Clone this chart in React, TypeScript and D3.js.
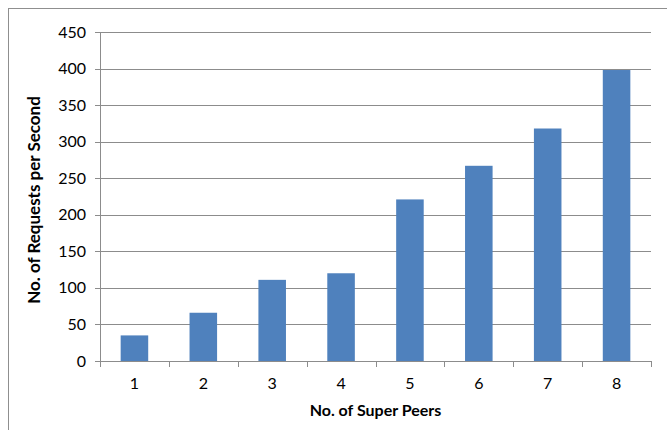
import React from "react";
import * as d3 from "d3";

const categories = ["1", "2", "3", "4", "5", "6", "7", "8"];
const requests = [35, 66, 111, 120, 221, 267, 318, 398];
const yTicks = [0, 50, 100, 150, 200, 250, 300, 350, 400, 450];
const xTitle = "No. of Super Peers";
const yTitle = "No. of Requests per Second";

const W = 667;
const H = 430;
const plot = { left: 100, right: 651, top: 32, bottom: 361 };
const font = "Lato, Carlito, Calibri, sans-serif";

export default function App() {
  const x = d3
    .scaleBand<string>()
    .domain(categories)
    .range([plot.left, plot.right])
    .paddingInner(0.6)
    .paddingOuter(0.3);
  const xCat = d3.scaleBand<string>().domain(categories).range([plot.left, plot.right]);
  const y = d3.scaleLinear().domain([0, 450]).range([plot.bottom, plot.top]);
  const grid = "#8c8c8c";
  const boundaries = [...categories.map((c) => xCat(c)!), plot.right];

  return (
    <svg
      width={W}
      height={H}
      style={{ position: "absolute", left: 0, top: 0, background: "#fff" }}
    >
      <rect x={8.5} y={8.5} width={W + 20} height={H + 20} fill="#fff" stroke="#8f8f8f" strokeWidth={1} />
      {yTicks.map((t) => (
        <g key={t}>
          {t > 0 && (
            <line x1={plot.left} x2={plot.right} y1={Math.round(y(t)) + 0.5} y2={Math.round(y(t)) + 0.5} stroke={grid} strokeWidth={1} />
          )}
          <line x1={plot.left - 5} x2={plot.left} y1={Math.round(y(t)) + 0.5} y2={Math.round(y(t)) + 0.5} stroke={grid} />
          <text
            x={86}
            y={y(t)}
            dy="0.35em"
            textAnchor="end"
            fontFamily={font}
            fontSize={16}
            fill="#000"
          >
            {t}
          </text>
        </g>
      ))}
      {categories.map((c, i) => (
        <rect
          key={c}
          x={x(c)!}
          y={y(requests[i])}
          width={x.bandwidth()}
          height={y(0) - y(requests[i])}
          fill="#4f81bd"
        />
      ))}
      <line x1={plot.left + 0.5} x2={plot.left + 0.5} y1={plot.top} y2={plot.bottom} stroke={grid} />
      <line x1={plot.left} x2={plot.right} y1={plot.bottom + 0.5} y2={plot.bottom + 0.5} stroke={grid} />
      {boundaries.map((b, i) => (
        <line key={i} x1={Math.round(b) + 0.5} x2={Math.round(b) + 0.5} y1={plot.bottom} y2={plot.bottom + 6} stroke={grid} />
      ))}
      {categories.map((c) => (
        <text
          key={c}
          x={xCat(c)! + xCat.bandwidth() / 2}
          y={383}
          dy="0.35em"
          textAnchor="middle"
          fontFamily={font}
          fontSize={16}
          fill="#000"
        >
          {c}
        </text>
      ))}
      <text
        x={(plot.left + plot.right) / 2}
        y={410}
        dy="0.35em"
        textAnchor="middle"
        fontFamily={font}
        fontSize={16}
        fontWeight="bold"
        fill="#000"
      >
        {xTitle}
      </text>
      <text
        transform={`translate(34,200) rotate(-90)`}
        dy="0.35em"
        textAnchor="middle"
        fontFamily={font}
        fontSize={17}
        fontWeight="bold"
        fill="#000"
      >
        {yTitle}
      </text>
    </svg>
  );
}
